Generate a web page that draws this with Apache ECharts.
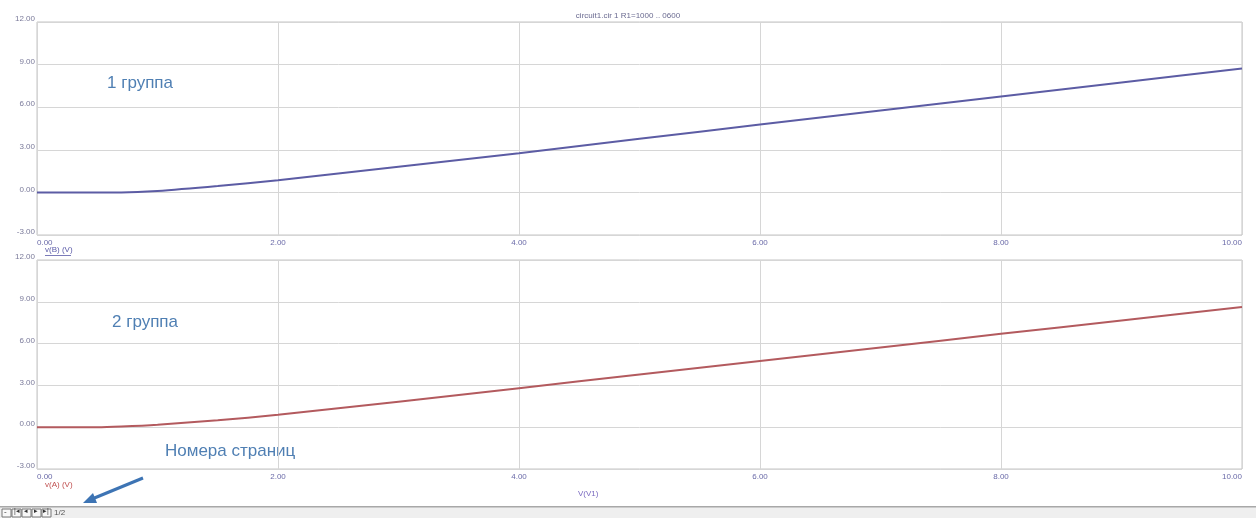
<!DOCTYPE html>
<html>
<head>
<meta charset="utf-8">
<script src="https://cdn.jsdelivr.net/npm/echarts@6/dist/echarts.min.js"></script>
<style>
  html, body { margin: 0; padding: 0; background: #ffffff; }
  #chart { width: 1256px; height: 518px; }
</style>
</head>
<body>
<div id="chart"></div>
<script>
// Sweep of V(V1) and the two node voltages
const sweepV1 = [0, 0.5, 0.7, 1.0, 1.5, 2.0, 3.0, 4.0, 5.0, 6.0, 7.0, 8.0, 9.0, 10.0];
const vB = [0, 0, 0, 0.10, 0.45, 0.86, 1.80, 2.76, 3.77, 4.78, 5.77, 6.76, 7.74, 8.72];
const vA = [0, 0, 0.05, 0.18, 0.50, 0.89, 1.83, 2.80, 3.78, 4.75, 5.72, 6.70, 7.66, 8.62];

const xTicks = [0, 2, 4, 6, 8, 10];
const yTicks = [-3, 0, 3, 6, 9, 12];

const plotTitle = 'circuit1.cir 1 R1=1000 .. 0600';
const topTrace = 'v(B) (V)';
const bottomTrace = 'v(A) (V)';
const xName = 'V(V1)';
const groupLabels = ['1 группа', '2 группа'];
const pagesNote = 'Номера страниц';

const pairs = (xs, ys) => xs.map((x, i) => [x, ys[i]]);

const chart = echarts.init(document.getElementById('chart'));

const fmt = v => v.toFixed(2);

function xAxis(gridIndex) {
  return {
    type: 'value', gridIndex,
    min: xTicks[0], max: xTicks[xTicks.length - 1], interval: xTicks[1] - xTicks[0],
    axisLine: { show: false }, axisTick: { show: false },
    splitLine: { show: true, lineStyle: { color: '#d6d6d6', width: 1 } },
    axisLabel: {
      formatter: fmt, color: '#6a6aa8', fontSize: 8, margin: 4,
      fontFamily: 'Liberation Sans', alignMinLabel: 'left', alignMaxLabel: 'right'
    }
  };
}
function yAxis(gridIndex) {
  return {
    type: 'value', gridIndex,
    min: yTicks[0], max: yTicks[yTicks.length - 1], interval: yTicks[1] - yTicks[0],
    axisLine: { show: false }, axisTick: { show: false },
    splitLine: { show: true, lineStyle: { color: '#d6d6d6', width: 1 } },
    axisLabel: {
      formatter: fmt, color: '#7a7a9a', fontSize: 8, margin: 2,
      fontFamily: 'Liberation Sans', verticalAlign: 'bottom', lineHeight: 6
    }
  };
}

const noteStyle = { fontFamily: 'Liberation Sans', fontSize: 17, fill: '#4f7fb3' };

chart.setOption({
  animation: false,
  backgroundColor: '#ffffff',
  title: {
    text: plotTitle, left: 'center', top: 7,
    textStyle: { fontSize: 8, color: '#6a6a90', fontWeight: 'normal', fontFamily: 'Liberation Sans' }
  },
  grid: [
    { left: 37, right: 14, top: 22, height: 213, show: true, borderColor: '#c4c4c4', borderWidth: 1 },
    { left: 37, right: 14, top: 260, height: 209, show: true, borderColor: '#c4c4c4', borderWidth: 1 }
  ],
  xAxis: [xAxis(0), xAxis(1)],
  yAxis: [yAxis(0), yAxis(1)],
  series: [
    {
      name: topTrace, type: 'line', xAxisIndex: 0, yAxisIndex: 0,
      data: pairs(sweepV1, vB), smooth: 0.25, showSymbol: false,
      lineStyle: { color: '#5c5ca4', width: 2 }
    },
    {
      name: bottomTrace, type: 'line', xAxisIndex: 1, yAxisIndex: 1,
      data: pairs(sweepV1, vA), smooth: 0.25, showSymbol: false,
      lineStyle: { color: '#b35a5e', width: 2 }
    }
  ],
  graphic: [
    // trace names under each plot
    { type: 'text', left: 45, top: 246, style: { text: topTrace, fontSize: 8, fill: '#5a5aa8', fontFamily: 'Liberation Sans' } },
    { type: 'rect', shape: { x: 45, y: 255, width: 26, height: 0.8 }, style: { fill: '#5a5aa8' } },
    { type: 'text', left: 45, top: 481, style: { text: bottomTrace, fontSize: 8, fill: '#c05050', fontFamily: 'Liberation Sans' } },
    { type: 'text', left: 578, top: 490, style: { text: xName, fontSize: 8, fill: '#7a6ac0', fontFamily: 'Liberation Sans' } },
    // group annotations
    { type: 'text', left: 107, top: 75, style: Object.assign({ text: groupLabels[0] }, noteStyle) },
    { type: 'text', left: 112, top: 314, style: Object.assign({ text: groupLabels[1] }, noteStyle) },
    { type: 'text', left: 165, top: 443, style: Object.assign({ text: pagesNote }, noteStyle) },
    // arrow towards the page buttons
    { type: 'line', shape: { x1: 143, y1: 478, x2: 92, y2: 499 }, style: { stroke: '#3d74b4', lineWidth: 3 } },
    { type: 'polygon', shape: { points: [[83, 503], [93, 493], [97, 503]] }, style: { fill: '#3d74b4' } },
    // page toolbar
    { type: 'rect', shape: { x: 0, y: 507, width: 1256, height: 11 }, style: { fill: '#efefef' } },
    { type: 'rect', shape: { x: 0, y: 506, width: 1256, height: 1.5 }, style: { fill: '#a8a8a8' } },
    { type: 'rect', shape: { x: 2, y: 509, width: 9, height: 8 }, style: { fill: '#f8f8f8', stroke: '#777', lineWidth: 1 } },
    { type: 'rect', shape: { x: 12, y: 509, width: 9, height: 8 }, style: { fill: '#f8f8f8', stroke: '#777', lineWidth: 1 } },
    { type: 'rect', shape: { x: 22, y: 509, width: 9, height: 8 }, style: { fill: '#f8f8f8', stroke: '#777', lineWidth: 1 } },
    { type: 'rect', shape: { x: 32, y: 509, width: 9, height: 8 }, style: { fill: '#f8f8f8', stroke: '#777', lineWidth: 1 } },
    { type: 'rect', shape: { x: 42, y: 509, width: 9, height: 8 }, style: { fill: '#f8f8f8', stroke: '#777', lineWidth: 1 } },
    { type: 'text', left: 4, top: 508, style: { text: '-', fontSize: 8, fill: '#333' } },
    { type: 'text', left: 14, top: 508, style: { text: '|◂', fontSize: 7, fill: '#333' } },
    { type: 'text', left: 24, top: 508, style: { text: '◂', fontSize: 7, fill: '#333' } },
    { type: 'text', left: 34, top: 508, style: { text: '▸', fontSize: 7, fill: '#333' } },
    { type: 'text', left: 43, top: 508, style: { text: '▸|', fontSize: 7, fill: '#333' } },
    { type: 'text', left: 54, top: 509, style: { text: '1/2', fontSize: 8, fill: '#555', fontFamily: 'Liberation Sans' } }
  ]
});
</script>
</body>
</html>
